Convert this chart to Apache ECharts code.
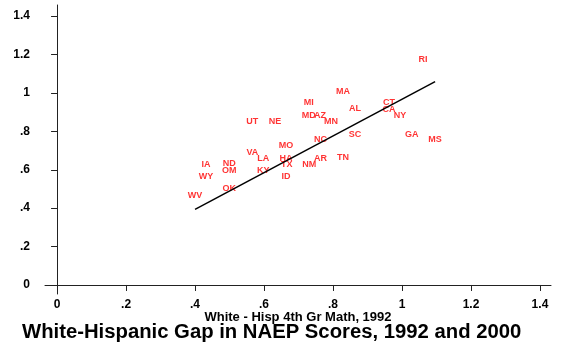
<!DOCTYPE html>
<html>
<head>
<meta charset="utf-8">
<script src="https://cdn.jsdelivr.net/npm/echarts@6/dist/echarts.min.js"></script>
<style>html,body{margin:0;padding:0;background:#fff}#c{width:581px;height:349px}</style>
</head>
<body>
<div id="c"></div>
<script>
const states = ["RI","MA","MI","MD","AZ","MN","AL","CT","CA","NY","SC","GA","MS","NC","AR","TN","UT","NE","MO","VA","LA","HA","TX","NM","IA","ND","OM","KY","WY","ID","OK","WV"];
const gap1992 = [1.061,0.829,0.730,0.730,0.762,0.794,0.864,0.962,0.962,0.994,0.864,1.028,1.096,0.764,0.764,0.829,0.566,0.632,0.664,0.566,0.598,0.664,0.666,0.731,0.432,0.499,0.499,0.598,0.432,0.664,0.499,0.400];
const gap2000 = [1.172,1.010,0.948,0.885,0.885,0.851,0.917,0.951,0.915,0.885,0.786,0.786,0.755,0.755,0.660,0.664,0.851,0.851,0.724,0.691,0.656,0.656,0.628,0.628,0.628,0.630,0.595,0.595,0.564,0.564,0.500,0.465];
const fitX = [0.40, 1.096];
const fitY = [0.394, 1.059];
const ticks = [0, 0.2, 0.4, 0.6, 0.8, 1, 1.2, 1.4];

const fmt = v => {
  let s = (Math.round(v * 10) / 10).toString();
  if (s.startsWith("0.")) s = s.slice(1);
  return s;
};

const FONT = 'Liberation Sans, Arial, sans-serif';
const chart = echarts.init(document.getElementById('c'), null, {renderer: 'canvas'});
const axisCommon = {
  type: 'value',
  splitLine: {show: false},
  axisLine: {show: true, lineStyle: {color: '#222', width: 1}},
  axisTick: {show: true, length: 6, customValues: ticks, lineStyle: {color: '#222'}},
};
chart.setOption({
  animation: false,
  title: {
    text: 'White-Hispanic Gap in NAEP Scores, 1992 and 2000',
    left: 17, top: 317,
    textStyle: {fontFamily: FONT, fontWeight: 'bold', fontSize: 20.3, color: '#000'}
  },
  grid: {left: 45, right: 30, top: 5, bottom: 55},
  xAxis: Object.assign({}, axisCommon, {
    min: -0.035, max: 1.432,
    name: 'White - Hisp 4th Gr Math, 1992',
    nameLocation: 'middle', nameGap: 17, nameMoveOverlap: false,
    nameTextStyle: {fontFamily: FONT, fontWeight: 'bold', fontSize: 13, color: '#000', verticalAlign: 'top'},
    axisLabel: {customValues: ticks, formatter: fmt, margin: 5,
      fontFamily: FONT, fontWeight: 'bold', fontSize: 12, color: '#000'}
  }),
  yAxis: Object.assign({}, axisCommon, {
    min: -0.047, max: 1.458,
    axisLabel: {customValues: ticks, formatter: fmt, margin: 15,
      fontFamily: FONT, fontWeight: 'bold', fontSize: 12, color: '#000'}
  }),
  series: [
    {
      type: 'scatter',
      symbolSize: 0,
      data: states.map((s, i) => [gap1992[i], gap2000[i], s]),
      label: {
        show: true, position: 'inside',
        formatter: p => p.data[2],
        fontFamily: FONT, fontWeight: 'bold', fontSize: 9, color: '#ff0000'
      },
      z: 3
    },
    {
      type: 'line',
      data: fitX.map((x, i) => [x, fitY[i]]),
      symbol: 'none',
      lineStyle: {color: '#000', width: 1.5},
      z: 4
    }
  ]
});
</script>
</body>
</html>
